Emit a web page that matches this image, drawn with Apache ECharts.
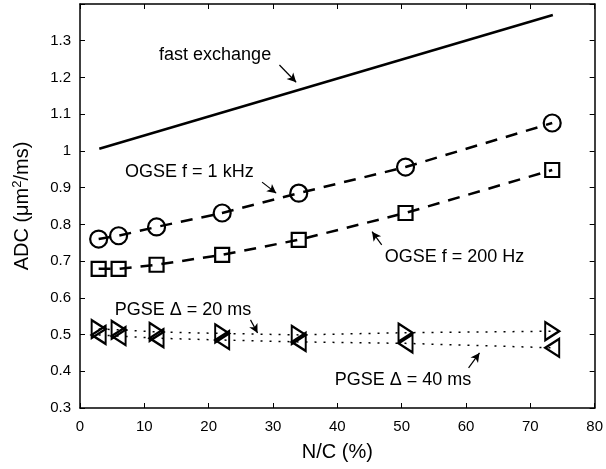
<!DOCTYPE HTML>
<html>
<head>
<meta charset="utf-8">
<title>ADC vs N/C</title>
<style>
html,body{margin:0;padding:0;background:#fff;}
#container{width:606px;height:469px;}
</style>
</head>
<body>
<div id="container"></div>
<script src="https://cdn.jsdelivr.net/npm/echarts@6/dist/echarts.min.js"></script>
<script>
// data
var nc = [2.9, 6.0, 11.9, 22.1, 34.0, 50.6, 73.4];
var ogse1k = [0.760, 0.769, 0.793, 0.831, 0.885, 0.956, 1.076];
var ogse200 = [0.679, 0.679, 0.690, 0.717, 0.758, 0.831, 0.948];
var pgse20 = [0.515, 0.513, 0.507, 0.503, 0.499, 0.505, 0.509];
var pgse40 = [0.499, 0.496, 0.490, 0.485, 0.480, 0.476, 0.464];
var fastX = [3.0, 73.5];
var fastY = [1.006, 1.370];

// annotation text and arrows (data coords)
var notes = [
  ['fast exchange', 21.0, 1.261],
  ['OGSE f = 1 kHz', 17.0, 0.942],
  ['OGSE f = 200 Hz', 58.2, 0.711],
  ['PGSE \u0394 = 20 ms', 16.0, 0.567],
  ['PGSE \u0394 = 40 ms', 50.2, 0.376]
];
var arrows = [
  [[31.0, 1.234], [33.6, 1.187]],
  [[28.3, 0.915], [30.5, 0.885]],
  [[46.9, 0.744], [45.4, 0.780]],
  [[26.5, 0.540], [27.6, 0.504]],
  [[60.4, 0.409], [62.1, 0.450]]
];

function pairs(xs, ys) {
  var out = [];
  for (var i = 0; i < xs.length; i++) out.push([xs[i], ys[i]]);
  return out;
}

var FONT = 'Liberation Sans, Arial, sans-serif';
var triR = 'path://M0,0L10,6L0,12Z';
var triL = 'path://M10,0L0,6L10,12Z';

var chart = echarts.init(document.getElementById('container'));

function boxAxis(pos, show) {
  return {
    type: 'value', position: pos,
    axisLine: {show: true, onZero: false, lineStyle: {color: '#000', width: 1.5}},
    axisTick: {show: true, inside: true, length: 5, lineStyle: {color: '#000'}},
    axisLabel: {show: show},
    splitLine: {show: false}
  };
}

var xBottom = boxAxis('bottom', true);
xBottom.min = 0; xBottom.max = 80; xBottom.interval = 10;
xBottom.axisLabel = {show: true, color: '#000', fontSize: 15, fontFamily: FONT, margin: 11};
xBottom.name = 'N/C (%)';
xBottom.nameLocation = 'middle';
xBottom.nameGap = 34;
xBottom.nameTextStyle = {color: '#000', fontSize: 20, fontFamily: FONT};

var xTop = boxAxis('top', false);
xTop.min = 0; xTop.max = 80; xTop.interval = 10;

var yLeft = boxAxis('left', true);
yLeft.min = 0.3; yLeft.max = 1.4; yLeft.interval = 0.1;
yLeft.axisLabel = {
  show: true, color: '#000', fontSize: 15, fontFamily: FONT, margin: 9,
  formatter: function (v) { return v > 1.35 ? '' : String(Math.round(v * 10) / 10); }
};
yLeft.name = 'ADC (\u03bcm{sup|2}/ms)';
yLeft.nameLocation = 'middle';
yLeft.nameGap = 47;
yLeft.nameTextStyle = {
  color: '#000', fontSize: 20, fontFamily: FONT,
  rich: {sup: {fontSize: 13, fontFamily: FONT, color: '#000', verticalAlign: 'top', padding: [0, 0, 9, 0]}}
};

var yRight = boxAxis('right', false);
yRight.min = 0.3; yRight.max = 1.4; yRight.interval = 0.1;

var markerStyle = {color: 'none', borderColor: '#000', borderWidth: 2.2};

chart.setOption({
  animation: false,
  backgroundColor: '#fff',
  grid: {left: 80, right: 10, top: 4, bottom: 61},
  xAxis: [xBottom, xTop],
  yAxis: [yLeft, yRight],
  series: [
    {
      name: 'fast exchange', type: 'line', data: pairs(fastX, fastY),
      symbol: 'none', lineStyle: {color: '#000', width: 2.5}, z: 3,
      markLine: {
        silent: true, symbol: ['none', 'arrow'], symbolSize: [7, 9],
        lineStyle: {color: '#000', width: 1.2, type: 'solid'},
        label: {show: false},
        data: arrows.map(function (a) {
          return [{coord: a[0]}, {coord: a[1]}];
        })
      }
    },
    {
      name: 'OGSE 1 kHz', type: 'line', data: pairs(nc, ogse1k),
      symbol: 'circle', symbolSize: 17, itemStyle: markerStyle,
      lineStyle: {color: '#000', width: 2.5, type: [12, 9]}
    },
    {
      name: 'OGSE 200 Hz', type: 'line', data: pairs(nc, ogse200),
      symbol: 'rect', symbolSize: 14, itemStyle: markerStyle,
      lineStyle: {color: '#000', width: 2.5, type: [12, 9]}
    },
    {
      name: 'PGSE 20 ms', type: 'line', data: pairs(nc, pgse20),
      symbol: triR, symbolSize: [14, 18], itemStyle: markerStyle,
      lineStyle: {color: '#000', width: 1.5, type: [2, 7]}
    },
    {
      name: 'PGSE 40 ms', type: 'line', data: pairs(nc, pgse40),
      symbol: triL, symbolSize: [14, 18], itemStyle: markerStyle,
      lineStyle: {color: '#000', width: 1.5, type: [2, 7]}
    }
  ]
});

// annotation texts placed through the axes
chart.setOption({
  graphic: notes.map(function (n) {
    var p = chart.convertToPixel({xAxisIndex: 0, yAxisIndex: 0}, [n[1], n[2]]);
    return {
      type: 'text', x: p[0], y: p[1], z: 10,
      style: {text: n[0], fill: '#000', fontSize: 18, fontFamily: FONT, align: 'center', verticalAlign: 'middle'}
    };
  })
});
</script>
</body>
</html>
